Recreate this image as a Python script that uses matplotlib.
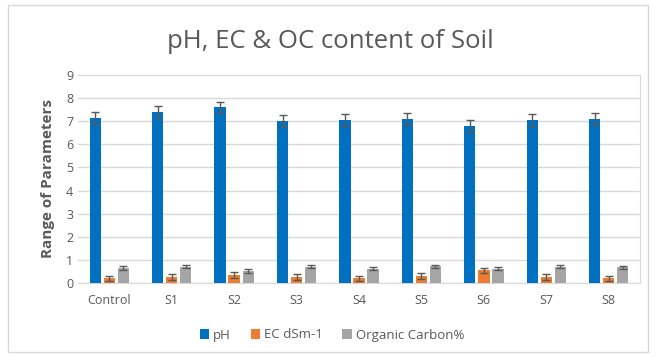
import numpy as np
import matplotlib.pyplot as plt
from matplotlib.patches import Rectangle

categories = ["Control", "S1", "S2", "S3", "S4", "S5", "S6", "S7", "S8"]
ph = [7.15, 7.4, 7.6, 7.0, 7.05, 7.1, 6.8, 7.05, 7.1]
ph_err = [0.25, 0.25, 0.25, 0.25, 0.25, 0.25, 0.25, 0.25, 0.25]
ec = [0.2, 0.25, 0.35, 0.25, 0.2, 0.3, 0.55, 0.25, 0.2]
ec_err = [0.12, 0.12, 0.12, 0.12, 0.12, 0.12, 0.12, 0.12, 0.12]
oc = [0.65, 0.7, 0.52, 0.7, 0.62, 0.72, 0.62, 0.7, 0.68]
oc_err = [0.07, 0.07, 0.07, 0.07, 0.07, 0.07, 0.07, 0.07, 0.07]

plt.rcParams['font.family'] = ['Open Sans', 'DejaVu Sans']

fig = plt.figure(figsize=(6.57, 3.57), dpi=100)
fig.patches.append(Rectangle((8 / 657, 5 / 357), 640 / 657, 347 / 357, transform=fig.transFigure,
                             fill=False, edgecolor="#d9d9d9", linewidth=1))
ax = fig.add_axes([78 / 657, 1 - 283 / 357, 562 / 657, 208 / 357])

x = np.arange(len(categories))
w = 0.18
off = 0.225
ekw = dict(ecolor="#595959", elinewidth=1, capsize=3, capthick=1)
ax.bar(x - off, ph, w, yerr=ph_err, color="#0070c0", label="pH", error_kw=ekw, zorder=3)
ax.bar(x, ec, w, yerr=ec_err, color="#ed7d31", label="EC dSm-1", error_kw=ekw, zorder=3)
ax.bar(x + off, oc, w, yerr=oc_err, color="#a5a5a5", label="Organic Carbon%", error_kw=ekw, zorder=3)

ax.set_xlim(-0.5, len(categories) - 0.5)
ax.set_ylim(0, 9)
ax.set_yticks(range(10))
ax.set_xticks(x)
ax.set_xticklabels(categories)
ax.tick_params(length=0, colors="#595959", labelsize=9)
ax.tick_params(axis="x", pad=8)
ax.grid(axis="y", color="#d9d9d9", linewidth=1, zorder=0)
ax.spines["left"].set_visible(False)
for s in ["top", "right", "bottom"]:
    ax.spines[s].set_color("#d9d9d9")

ax.set_ylabel("Range of Parameters", fontsize=11, fontweight="bold", color="#595959", labelpad=8)
fig.text(330 / 657, 1 - 42 / 357, "pH, EC & OC content of Soil", ha="center", va="center",
         fontsize=18.5, color="#595959")
fig.legend(loc="center", bbox_to_anchor=(332 / 657, 1 - 335 / 357), ncol=3, frameon=False,
           fontsize=9.5, handlelength=0.7, handleheight=0.7, handletextpad=0.3, columnspacing=1.5,
           labelcolor="#595959")

fig.savefig("out.png", dpi=100)
